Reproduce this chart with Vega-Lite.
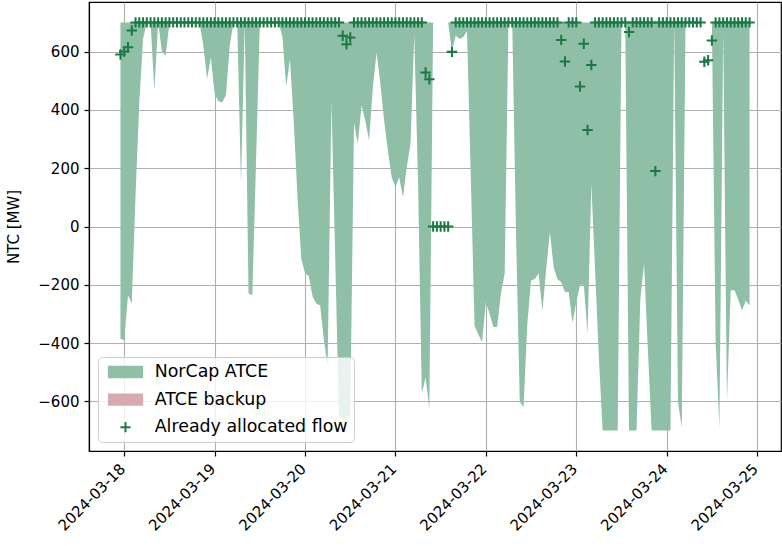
{
  "$schema": "https://vega.github.io/schema/vega-lite/v6.json",
  "width": 692,
  "height": 449,
  "autosize": {"type": "none"},
  "padding": {"left": 89, "top": 2, "right": 1, "bottom": 95},
  "background": "white",
  "config": {
    "font": "DejaVu Sans",
    "view": {"stroke": "#000", "strokeWidth": 1.2},
    "axis": {
      "labelFont": "DejaVu Sans", "labelFontSize": 15, "labelColor": "#000",
      "titleFont": "DejaVu Sans", "titleFontSize": 15, "titleFontWeight": "normal", "titleColor": "#000",
      "tickColor": "#000", "tickSize": 5, "tickWidth": 1.2,
      "domainColor": "#000", "domainWidth": 1.2,
      "gridColor": "#b0b0b0", "gridWidth": 1.1, "grid": true,
      "labelPadding": 5, "zindex": 1
    }
  },
  "data": {"values": [
    {"t":"2024-03-17T23:00","lo":-385,"hi":700,"flow":590},
    {"t":"2024-03-18T00:00","lo":-390,"hi":700,"flow":600},
    {"t":"2024-03-18T01:00","lo":-236,"hi":700,"flow":615},
    {"t":"2024-03-18T02:00","lo":-263,"hi":700,"flow":672},
    {"t":"2024-03-18T03:00","lo":105,"hi":700,"flow":700},
    {"t":"2024-03-18T04:00","lo":427,"hi":700,"flow":700},
    {"t":"2024-03-18T05:00","lo":643,"hi":700,"flow":700},
    {"t":"2024-03-18T06:00","lo":700,"hi":700,"flow":700},
    {"t":"2024-03-18T07:00","lo":700,"hi":700,"flow":700},
    {"t":"2024-03-18T08:00","lo":466,"hi":700,"flow":700},
    {"t":"2024-03-18T09:00","lo":700,"hi":700,"flow":700},
    {"t":"2024-03-18T10:00","lo":600,"hi":700,"flow":700},
    {"t":"2024-03-18T11:00","lo":586,"hi":700,"flow":700},
    {"t":"2024-03-18T12:00","lo":700,"hi":700,"flow":700},
    {"t":"2024-03-18T13:00","lo":700,"hi":700,"flow":700},
    {"t":"2024-03-18T14:00","lo":700,"hi":700,"flow":700},
    {"t":"2024-03-18T15:00","lo":700,"hi":700,"flow":700},
    {"t":"2024-03-18T16:00","lo":700,"hi":700,"flow":700},
    {"t":"2024-03-18T17:00","lo":700,"hi":700,"flow":700},
    {"t":"2024-03-18T18:00","lo":700,"hi":700,"flow":700},
    {"t":"2024-03-18T19:00","lo":700,"hi":700,"flow":700},
    {"t":"2024-03-18T20:00","lo":700,"hi":700,"flow":700},
    {"t":"2024-03-18T21:00","lo":620,"hi":700,"flow":700},
    {"t":"2024-03-18T22:00","lo":506,"hi":700,"flow":700},
    {"t":"2024-03-18T23:00","lo":580,"hi":700,"flow":700},
    {"t":"2024-03-19T00:00","lo":455,"hi":700,"flow":700},
    {"t":"2024-03-19T01:00","lo":430,"hi":700,"flow":700},
    {"t":"2024-03-19T02:00","lo":425,"hi":700,"flow":700},
    {"t":"2024-03-19T03:00","lo":450,"hi":700,"flow":700},
    {"t":"2024-03-19T04:00","lo":620,"hi":700,"flow":700},
    {"t":"2024-03-19T05:00","lo":700,"hi":700,"flow":700},
    {"t":"2024-03-19T06:00","lo":700,"hi":700,"flow":700},
    {"t":"2024-03-19T07:00","lo":146,"hi":700,"flow":700},
    {"t":"2024-03-19T08:00","lo":700,"hi":700,"flow":700},
    {"t":"2024-03-19T09:00","lo":-230,"hi":700,"flow":700},
    {"t":"2024-03-19T10:00","lo":-236,"hi":700,"flow":700},
    {"t":"2024-03-19T11:00","lo":226,"hi":700,"flow":700},
    {"t":"2024-03-19T12:00","lo":700,"hi":700,"flow":700},
    {"t":"2024-03-19T13:00","lo":700,"hi":700,"flow":700},
    {"t":"2024-03-19T14:00","lo":700,"hi":700,"flow":700},
    {"t":"2024-03-19T15:00","lo":700,"hi":700,"flow":700},
    {"t":"2024-03-19T16:00","lo":700,"hi":700,"flow":700},
    {"t":"2024-03-19T17:00","lo":700,"hi":700,"flow":700},
    {"t":"2024-03-19T18:00","lo":650,"hi":700,"flow":700},
    {"t":"2024-03-19T19:00","lo":480,"hi":700,"flow":700},
    {"t":"2024-03-19T20:00","lo":574,"hi":700,"flow":700},
    {"t":"2024-03-19T21:00","lo":360,"hi":700,"flow":700},
    {"t":"2024-03-19T22:00","lo":100,"hi":700,"flow":700},
    {"t":"2024-03-19T23:00","lo":-110,"hi":700,"flow":700},
    {"t":"2024-03-20T00:00","lo":-160,"hi":700,"flow":700},
    {"t":"2024-03-20T01:00","lo":-170,"hi":700,"flow":700},
    {"t":"2024-03-20T02:00","lo":-240,"hi":700,"flow":700},
    {"t":"2024-03-20T03:00","lo":-265,"hi":700,"flow":700},
    {"t":"2024-03-20T04:00","lo":-270,"hi":700,"flow":700},
    {"t":"2024-03-20T05:00","lo":-390,"hi":700,"flow":700},
    {"t":"2024-03-20T06:00","lo":-480,"hi":700,"flow":700},
    {"t":"2024-03-20T07:00","lo":430,"hi":700,"flow":700},
    {"t":"2024-03-20T08:00","lo":-100,"hi":700,"flow":700},
    {"t":"2024-03-20T09:00","lo":-650,"hi":700,"flow":700},
    {"t":"2024-03-20T10:00","lo":-660,"hi":700,"flow":654},
    {"t":"2024-03-20T11:00","lo":-650,"hi":700,"flow":625},
    {"t":"2024-03-20T12:00","lo":-650,"hi":700,"flow":648},
    {"t":"2024-03-20T13:00","lo":357,"hi":700,"flow":700},
    {"t":"2024-03-20T14:00","lo":283,"hi":700,"flow":700},
    {"t":"2024-03-20T15:00","lo":415,"hi":700,"flow":700},
    {"t":"2024-03-20T16:00","lo":363,"hi":700,"flow":700},
    {"t":"2024-03-20T17:00","lo":295,"hi":700,"flow":700},
    {"t":"2024-03-20T18:00","lo":478,"hi":700,"flow":700},
    {"t":"2024-03-20T19:00","lo":597,"hi":700,"flow":700},
    {"t":"2024-03-20T20:00","lo":489,"hi":700,"flow":700},
    {"t":"2024-03-20T21:00","lo":363,"hi":700,"flow":700},
    {"t":"2024-03-20T22:00","lo":261,"hi":700,"flow":700},
    {"t":"2024-03-20T23:00","lo":169,"hi":700,"flow":700},
    {"t":"2024-03-21T00:00","lo":135,"hi":700,"flow":700},
    {"t":"2024-03-21T01:00","lo":169,"hi":700,"flow":700},
    {"t":"2024-03-21T02:00","lo":101,"hi":700,"flow":700},
    {"t":"2024-03-21T03:00","lo":203,"hi":700,"flow":700},
    {"t":"2024-03-21T04:00","lo":283,"hi":700,"flow":700},
    {"t":"2024-03-21T05:00","lo":659,"hi":700,"flow":700},
    {"t":"2024-03-21T06:00","lo":150,"hi":700,"flow":700},
    {"t":"2024-03-21T07:00","lo":-574,"hi":700,"flow":700},
    {"t":"2024-03-21T08:00","lo":-517,"hi":700,"flow":528},
    {"t":"2024-03-21T09:00","lo":-625,"hi":700,"flow":505},
    {"t":"2024-03-21T10:00","lo":700,"hi":700,"flow":0},
    {"t":"2024-03-21T11:00","lo":700,"hi":700,"flow":0},
    {"t":"2024-03-21T12:00","lo":700,"hi":700,"flow":0},
    {"t":"2024-03-21T13:00","lo":700,"hi":700,"flow":0},
    {"t":"2024-03-21T14:00","lo":700,"hi":700,"flow":0},
    {"t":"2024-03-21T15:00","lo":600,"hi":700,"flow":599},
    {"t":"2024-03-21T16:00","lo":655,"hi":700,"flow":700},
    {"t":"2024-03-21T17:00","lo":643,"hi":700,"flow":700},
    {"t":"2024-03-21T18:00","lo":650,"hi":700,"flow":700},
    {"t":"2024-03-21T19:00","lo":670,"hi":700,"flow":700},
    {"t":"2024-03-21T20:00","lo":169,"hi":700,"flow":700},
    {"t":"2024-03-21T21:00","lo":-340,"hi":700,"flow":700},
    {"t":"2024-03-21T22:00","lo":-370,"hi":700,"flow":700},
    {"t":"2024-03-21T23:00","lo":-396,"hi":700,"flow":700},
    {"t":"2024-03-22T00:00","lo":-259,"hi":700,"flow":700},
    {"t":"2024-03-22T01:00","lo":-300,"hi":700,"flow":700},
    {"t":"2024-03-22T02:00","lo":-345,"hi":700,"flow":700},
    {"t":"2024-03-22T03:00","lo":-345,"hi":700,"flow":700},
    {"t":"2024-03-22T04:00","lo":-230,"hi":700,"flow":700},
    {"t":"2024-03-22T05:00","lo":-160,"hi":700,"flow":700},
    {"t":"2024-03-22T06:00","lo":700,"hi":700,"flow":700},
    {"t":"2024-03-22T07:00","lo":700,"hi":700,"flow":700},
    {"t":"2024-03-22T08:00","lo":-20,"hi":700,"flow":700},
    {"t":"2024-03-22T09:00","lo":-600,"hi":700,"flow":700},
    {"t":"2024-03-22T10:00","lo":-620,"hi":700,"flow":700},
    {"t":"2024-03-22T11:00","lo":-335,"hi":700,"flow":700},
    {"t":"2024-03-22T12:00","lo":-185,"hi":700,"flow":700},
    {"t":"2024-03-22T13:00","lo":-180,"hi":700,"flow":700},
    {"t":"2024-03-22T14:00","lo":-160,"hi":700,"flow":700},
    {"t":"2024-03-22T15:00","lo":-290,"hi":700,"flow":700},
    {"t":"2024-03-22T16:00","lo":-150,"hi":700,"flow":700},
    {"t":"2024-03-22T17:00","lo":-19,"hi":700,"flow":700},
    {"t":"2024-03-22T18:00","lo":-140,"hi":700,"flow":700},
    {"t":"2024-03-22T19:00","lo":-180,"hi":700,"flow":700},
    {"t":"2024-03-22T20:00","lo":-191,"hi":700,"flow":640},
    {"t":"2024-03-22T21:00","lo":-225,"hi":700,"flow":566},
    {"t":"2024-03-22T22:00","lo":-225,"hi":700,"flow":700},
    {"t":"2024-03-22T23:00","lo":-330,"hi":700,"flow":700},
    {"t":"2024-03-23T00:00","lo":-260,"hi":700,"flow":700},
    {"t":"2024-03-23T01:00","lo":-200,"hi":700,"flow":480},
    {"t":"2024-03-23T02:00","lo":-200,"hi":700,"flow":627},
    {"t":"2024-03-23T03:00","lo":-368,"hi":700,"flow":331},
    {"t":"2024-03-23T04:00","lo":146,"hi":700,"flow":554},
    {"t":"2024-03-23T05:00","lo":-150,"hi":700,"flow":700},
    {"t":"2024-03-23T06:00","lo":-450,"hi":700,"flow":700},
    {"t":"2024-03-23T07:00","lo":-700,"hi":700,"flow":700},
    {"t":"2024-03-23T08:00","lo":-700,"hi":700,"flow":700},
    {"t":"2024-03-23T09:00","lo":-700,"hi":700,"flow":700},
    {"t":"2024-03-23T10:00","lo":-700,"hi":700,"flow":700},
    {"t":"2024-03-23T11:00","lo":-700,"hi":700,"flow":700},
    {"t":"2024-03-23T12:00","lo":700,"hi":700,"flow":700},
    {"t":"2024-03-23T13:00","lo":700,"hi":700,"flow":700},
    {"t":"2024-03-23T14:00","lo":-700,"hi":700,"flow":667},
    {"t":"2024-03-23T15:00","lo":-700,"hi":700,"flow":700},
    {"t":"2024-03-23T16:00","lo":-700,"hi":700,"flow":700},
    {"t":"2024-03-23T17:00","lo":-250,"hi":700,"flow":700},
    {"t":"2024-03-23T18:00","lo":-128,"hi":700,"flow":700},
    {"t":"2024-03-23T19:00","lo":-420,"hi":700,"flow":700},
    {"t":"2024-03-23T20:00","lo":-700,"hi":700,"flow":700},
    {"t":"2024-03-23T21:00","lo":-700,"hi":700,"flow":190},
    {"t":"2024-03-23T22:00","lo":-700,"hi":700,"flow":700},
    {"t":"2024-03-23T23:00","lo":-700,"hi":700,"flow":700},
    {"t":"2024-03-24T00:00","lo":-700,"hi":700,"flow":700},
    {"t":"2024-03-24T01:00","lo":-700,"hi":700,"flow":700},
    {"t":"2024-03-24T02:00","lo":700,"hi":700,"flow":700},
    {"t":"2024-03-24T03:00","lo":-600,"hi":700,"flow":700},
    {"t":"2024-03-24T04:00","lo":-690,"hi":700,"flow":700},
    {"t":"2024-03-24T05:00","lo":700,"hi":700,"flow":700},
    {"t":"2024-03-24T06:00","lo":700,"hi":700,"flow":700},
    {"t":"2024-03-24T07:00","lo":700,"hi":700,"flow":700},
    {"t":"2024-03-24T08:00","lo":700,"hi":700,"flow":700},
    {"t":"2024-03-24T09:00","lo":700,"hi":700,"flow":700},
    {"t":"2024-03-24T10:00","lo":700,"hi":700,"flow":565},
    {"t":"2024-03-24T11:00","lo":700,"hi":700,"flow":570},
    {"t":"2024-03-24T12:00","lo":700,"hi":700,"flow":638},
    {"t":"2024-03-24T13:00","lo":-400,"hi":700,"flow":700},
    {"t":"2024-03-24T14:00","lo":-690,"hi":700,"flow":700},
    {"t":"2024-03-24T15:00","lo":670,"hi":700,"flow":700},
    {"t":"2024-03-24T16:00","lo":-600,"hi":700,"flow":700},
    {"t":"2024-03-24T17:00","lo":-219,"hi":700,"flow":700},
    {"t":"2024-03-24T18:00","lo":-219,"hi":700,"flow":700},
    {"t":"2024-03-24T19:00","lo":-250,"hi":700,"flow":700},
    {"t":"2024-03-24T20:00","lo":-288,"hi":700,"flow":700},
    {"t":"2024-03-24T21:00","lo":-254,"hi":700,"flow":700},
    {"t":"2024-03-24T22:00","lo":-271,"hi":700,"flow":700}
  ]},
  "encoding": {
    "x": {
      "field": "t", "type": "temporal",
      "scale": {"domain": [
        {"year": 2024, "month": 3, "date": 17, "hours": 14, "minutes": 39},
        {"year": 2024, "month": 3, "date": 25, "hours": 6, "minutes": 21}
      ]},
      "axis": {
        "title": null, "format": "%Y-%m-%d", "labelAngle": -45,
        "labelAlign": "right", "labelBaseline": "top", "labelOffset": -7,
        "values": [
          {"year": 2024, "month": 3, "date": 18},
          {"year": 2024, "month": 3, "date": 19},
          {"year": 2024, "month": 3, "date": 20},
          {"year": 2024, "month": 3, "date": 21},
          {"year": 2024, "month": 3, "date": 22},
          {"year": 2024, "month": 3, "date": 23},
          {"year": 2024, "month": 3, "date": 24},
          {"year": 2024, "month": 3, "date": 25}
        ]
      }
    }
  },
  "layer": [
    {
      "mark": {"type": "area", "interpolate": "linear", "opacity": 1},
      "encoding": {
        "y": {
          "field": "lo", "type": "quantitative",
          "scale": {"domain": [-770, 770], "nice": false, "zero": false},
          "axis": {
            "title": "NTC [MW]", "values": [-600, -400, -200, 0, 200, 400, 600],
            "labelExpr": "replace(datum.label, '-', '\u2212')", "titlePadding": 16
          }
        },
        "y2": {"field": "hi"},
        "color": {
          "datum": "NorCap ATCE",
          "scale": {
            "domain": ["NorCap ATCE", "ATCE backup", "Already allocated flow"],
            "range": ["#8fbfa6", "#d8a9b3", "#1a7a45"]
          },
          "legend": {
            "title": null, "orient": "bottom-left", "offset": 9,
            "padding": 6.3, "symbolSize": 110, "symbolOffset": 12.5,
            "labelOffset": 20.5, "rowPadding": 8.6, "labelLimit": 400,
            "symbolOpacity": 1, "symbolStrokeWidth": 0,
            "labelFont": "DejaVu Sans", "labelFontSize": 17.4, "labelColor": "#000",
            "strokeColor": "#cccccc", "fillColor": "rgba(255,255,255,0.8)",
            "cornerRadius": 4, "zindex": 5
          }
        }
      }
    },
    {
      "mark": {"type": "point", "filled": true, "size": 115, "opacity": 1, "strokeWidth": 0, "zindex": 2},
      "encoding": {
        "y": {"field": "flow", "type": "quantitative"},
        "color": {"datum": "Already allocated flow"},
        "shape": {
          "datum": "Already allocated flow",
          "scale": {
            "domain": ["NorCap ATCE", "ATCE backup", "Already allocated flow"],
            "range": [
              "M-3.36,-1.17H3.36V1.17H-3.36Z",
              "M-3.36,-1.17H3.36V1.17H-3.36Z",
              "M-0.97,-0.19H-0.19V-0.97H0.19V-0.19H0.97V0.19H0.19V0.97H-0.19V0.19H-0.97Z"
            ]
          },
          "legend": {
            "title": null, "orient": "bottom-left", "offset": 9,
            "padding": 6.3, "symbolSize": 110, "symbolOffset": 12.5,
            "labelOffset": 20.5, "rowPadding": 8.6, "labelLimit": 400,
            "symbolOpacity": 1, "symbolStrokeWidth": 0,
            "labelFont": "DejaVu Sans", "labelFontSize": 17.4, "labelColor": "#000",
            "strokeColor": "#cccccc", "fillColor": "rgba(255,255,255,0.8)",
            "cornerRadius": 4, "zindex": 5
          }
        }
      }
    }
  ]
}
